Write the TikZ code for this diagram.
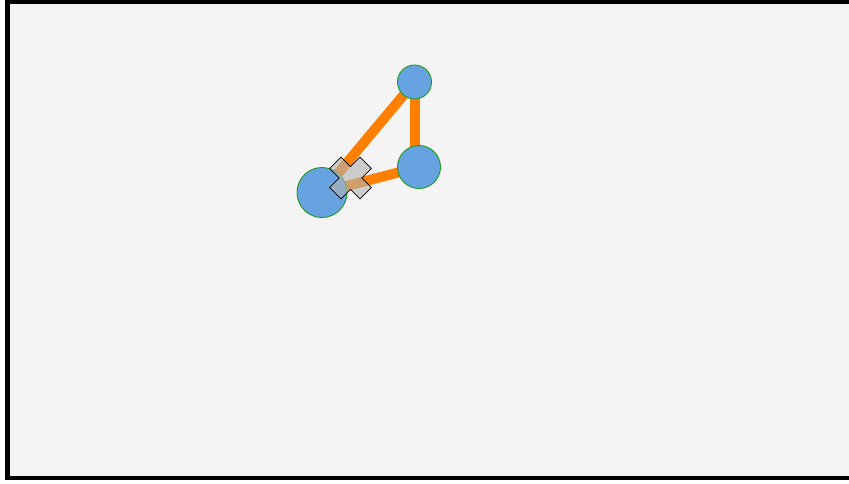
\documentclass[tikz,border=0pt]{standalone}
\definecolor{bgc}{HTML}{F4F4F4}
\definecolor{edgec}{HTML}{FF7F00}
\definecolor{nodec}{HTML}{66A3E0}
\definecolor{ringc}{HTML}{1E9A1E}
\definecolor{crossc}{HTML}{B4B4B4}
\tikzset{
  frame/.style={fill=bgc,draw=black,line width=4.5pt},
  link/.style={draw=edgec,line width=10pt},
  vertex/.style={circle,fill=nodec,draw=ringc,line width=0.9pt,inner sep=0pt},
  marker/.style={fill=crossc,fill opacity=0.62,draw=black,line width=0.7pt,line join=miter}
}
\begin{document}
\begin{tikzpicture}[x=1pt,y=-1pt]
\useasboundingbox (0,0) rectangle (849,483);
\clip (0,0) rectangle (849,483);
\draw[frame] (7.5,1.5) rectangle (860,478);
\coordinate (pa) at (414.5,82);
\coordinate (pb) at (419,167);
\coordinate (pbt) at (414.5,162);
\coordinate (pc) at (322,192.5);
\draw[link] (pa) -- (pbt);
\draw[link] (pa) -- (pc);
\draw[link] (pb) -- (pc);
\node[vertex,minimum size=34pt] (a) at (pa) {};
\node[vertex,minimum size=43pt] (b) at (pb) {};
\node[vertex,minimum size=50pt] (c) at (pc) {};
\begin{scope}[shift={(350.5,178)},rotate=45]
\draw[marker] (-8,-21.5) -- (8,-21.5) -- (8,-8) -- (21.5,-8) -- (21.5,8) -- (8,8) -- (8,21.5) -- (-8,21.5) -- (-8,8) -- (-21.5,8) -- (-21.5,-8) -- (-8,-8) -- cycle;
\end{scope}
\end{tikzpicture}
\end{document}
